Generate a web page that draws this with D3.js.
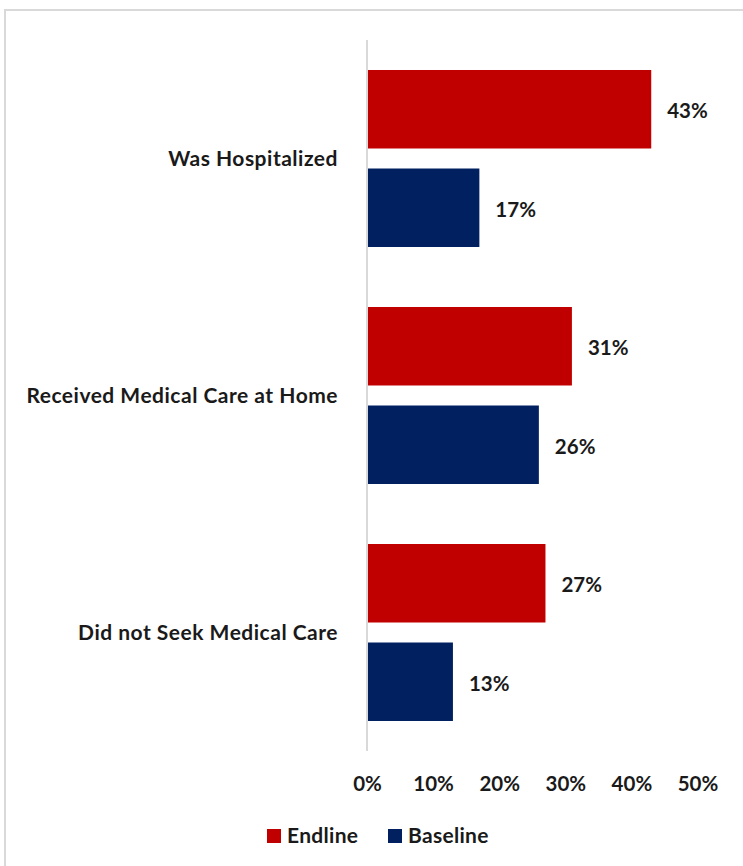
<!DOCTYPE html>
<html>
<head>
<meta charset="utf-8">
<script src="https://cdn.jsdelivr.net/npm/d3@7"></script>
<style>
  html, body { margin: 0; padding: 0; background: #fff; }
  svg { display: block; }
  text { font-family: Lato, "Open Sans", sans-serif; font-weight: bold; fill: #1a1a1a; }
</style>
</head>
<body>
<svg id="chart" width="743" height="866"></svg>
<script>
// Care sought, by survey round
const categories = ["Was Hospitalized", "Received Medical Care at Home", "Did not Seek Medical Care"];
const seriesNames = ["Endline", "Baseline"];
const endline = [43, 31, 27];
const baseline = [17, 26, 13];
const tickValues = [0, 10, 20, 30, 40, 50];
const colors = ["#C00000", "#002060"];

const rows = categories.map((c, i) => ({ category: c, values: [endline[i], baseline[i]] }));

const svg = d3.select("#chart");

// Chart area outline
svg.append("rect")
  .attr("x", 5).attr("y", 10)
  .attr("width", 760).attr("height", 880)
  .attr("fill", "none")
  .attr("stroke", "#d9d9d9")
  .attr("stroke-width", 2);

const x = d3.scaleLinear().domain([0, 50]).range([367, 697.5]);

const y = d3.scaleBand()
  .domain(categories)
  .range([40, 751])
  .paddingInner(60 / 237)
  .paddingOuter(30 / 237);

const ySub = d3.scaleBand()
  .domain(seriesNames)
  .range([0, y.bandwidth()])
  .paddingInner(20 / 98.5)
  .paddingOuter(0);

const groups = svg.append("g").selectAll("g")
  .data(rows)
  .join("g")
  .attr("transform", d => `translate(0,${y(d.category)})`);

groups.selectAll("rect")
  .data(d => d.values.map((v, i) => ({ name: seriesNames[i], value: v, color: colors[i] })))
  .join("rect")
  .attr("x", x(0))
  .attr("y", d => ySub(d.name))
  .attr("width", d => x(d.value) - x(0))
  .attr("height", ySub.bandwidth())
  .attr("fill", d => d.color);

groups.selectAll("text.value")
  .data(d => d.values.map((v, i) => ({ name: seriesNames[i], value: v })))
  .join("text")
  .attr("class", "value")
  .attr("x", d => x(d.value) + 16)
  .attr("y", d => ySub(d.name) + ySub.bandwidth() / 2 + 2)
  .attr("dy", "0.35em")
  .attr("font-size", 20.5)
  .text(d => d.value + "%");

// Category labels
svg.append("g").selectAll("text")
  .data(categories)
  .join("text")
  .attr("x", 338)
  .attr("y", d => y(d) + y.bandwidth() / 2)
  .attr("dy", "0.35em")
  .attr("text-anchor", "end")
  .attr("font-size", 21)
  .attr("letter-spacing", "0.5px")
  .text(d => d);

// Vertical axis line
svg.append("line")
  .attr("x1", x(0)).attr("x2", x(0))
  .attr("y1", 40).attr("y2", 751)
  .attr("stroke", "#d9d9d9")
  .attr("stroke-width", 2);

// Value axis tick labels
const xAxis = d3.axisBottom(x)
  .tickValues(tickValues)
  .tickFormat(d => d + "%")
  .tickSize(0)
  .tickPadding(0);

const axisG = svg.append("g")
  .attr("transform", "translate(0,776)")
  .call(xAxis);
axisG.select(".domain").remove();
axisG.selectAll("text")
  .attr("font-size", 20.5)
  .attr("font-family", null)
  .attr("fill", "#1a1a1a");

// Legend
const legendX = [267, 388];
const legend = svg.append("g").selectAll("g")
  .data(seriesNames)
  .join("g")
  .attr("transform", (d, i) => `translate(${legendX[i]},829)`);
legend.append("rect")
  .attr("width", 14).attr("height", 14)
  .attr("fill", (d, i) => colors[i]);
legend.append("text")
  .attr("x", 20)
  .attr("y", 7)
  .attr("dy", "0.35em")
  .attr("font-size", 21)
  .attr("letter-spacing", "0.3px")
  .text(d => d);
</script>
</body>
</html>
